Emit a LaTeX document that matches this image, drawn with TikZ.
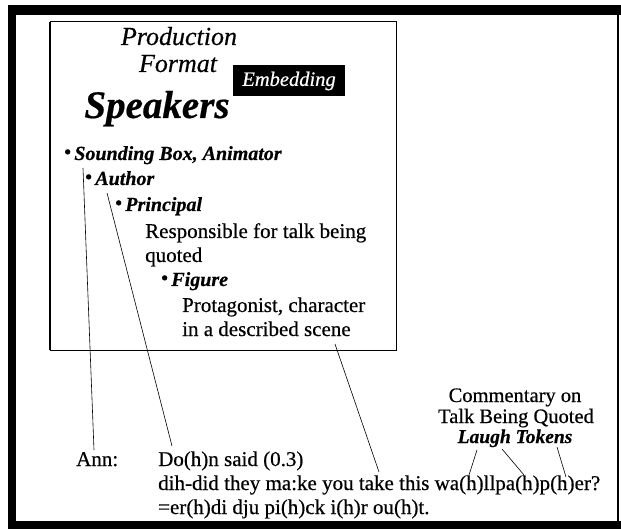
\documentclass[tikz,border=0pt]{standalone}
\usepackage{fontspec}
\setmainfont{Liberation Serif}[FakeBold=0.5]
\usetikzlibrary{positioning, calc}

% raised bullet in front of each speaker role
\newcommand{\rolemark}{\raisebox{0.2ex}{\scalebox{0.95}{\textbullet}}\hspace{3.5pt}}

\begin{document}
\begin{tikzpicture}[x=1pt, y=-1pt,
    title/.style={inner sep=0pt, anchor=base, font=\fontsize{26}{28}\selectfont\itshape},
    role/.style={inner sep=0pt, anchor=base west, font=\fontsize{20}{24}\selectfont\bfseries\itshape},
    gloss/.style={inner sep=0pt, anchor=base west, font=\fontsize{21}{24}\selectfont},
    note/.style={inner sep=0pt, anchor=base, font=\fontsize{20.5}{22}\selectfont},
    link/.style={line width=0.6pt}]
  \useasboundingbox (0,0) rectangle (621,529);

  % heavy outer frame, thin on the right
  \fill (8,5) rectangle (621,15);
  \fill (8,5) rectangle (16,529);
  \fill (8,521) rectangle (621,529);
  \draw[line width=1.2pt] (618,15) -- (618,521);

  % the production format box
  \draw[line width=1pt] (50,22) rectangle (396,350);
  \draw[line width=1.6pt] (50,22) -- (50,350);
  \node[title] (prod) at (179,45) {Production};
  \node[title] (fmt) at (178,72) {Format};
  \node[fill=black, text=white, inner sep=0pt, minimum width=112pt, minimum height=31pt,
        font=\fontsize{20.5}{21}\selectfont\itshape] (embed) at (289,81) {Embedding};
  \node[inner sep=0pt, anchor=base, font=\fontsize{39}{40}\selectfont\bfseries\itshape] (spk) at (157,118) {Speakers};

  \node[role] (sound) at (64,160) {\rolemark Sounding Box, Animator};
  \node[role] (author) at (85,185) {\rolemark Author};
  \node[role] (princ) at (115,211) {\rolemark Principal};
  \node[gloss] (resp) at (145,238) {Responsible for talk being};
  \node[gloss] (quot) at (145,262) {quoted};
  \node[role] (fig) at (161,286) {\rolemark Figure};
  \node[gloss] (prot) at (182,312) {Protagonist, character};
  \node[gloss] (scene) at (182,336) {in a described scene};

  % transcript
  \node[gloss] (ann) at (76,466) {Ann:};
  \node[gloss] (said) at (158,466) {Do(h)n said (0.3)};
  \node[gloss] (wall) at (158,490) {dih-did they ma:ke you take this wa(h)llpa(h)p(h)er?};
  \node[gloss] (pick) at (158,514) {=er(h)di dju pi(h)ck i(h)r ou(h)t.};

  \node[note] (comm) at (515,402) {Commentary on};
  \node[note] (tbq) at (516,423) {Talk Being Quoted};
  \node[note, font=\fontsize{19.5}{21}\selectfont\bfseries\itshape] (laugh) at (515,443) {Laugh Tokens};

  % ends of the connectors
  \coordinate (a1) at (83,168);  \coordinate (a2) at (94,450);
  \coordinate (b1) at (107,193); \coordinate (b2) at (172,446);
  \coordinate (c1) at (335,344); \coordinate (c2) at (379,472);
  \coordinate (l1) at (477,450); \coordinate (l2) at (469,475);
  \coordinate (m1) at (502,449); \coordinate (m2) at (524,475);
  \coordinate (n1) at (557,447); \coordinate (n2) at (566,477);

  \draw[link] (a1) -- (a2);
  \draw[link] (b1) -- (b2);
  \draw[link] (c1) -- (c2);
  \draw[link] (l1) -- (l2);
  \draw[link] (m1) -- (m2);
  \draw[link] (n1) -- (n2);
\end{tikzpicture}
\end{document}
